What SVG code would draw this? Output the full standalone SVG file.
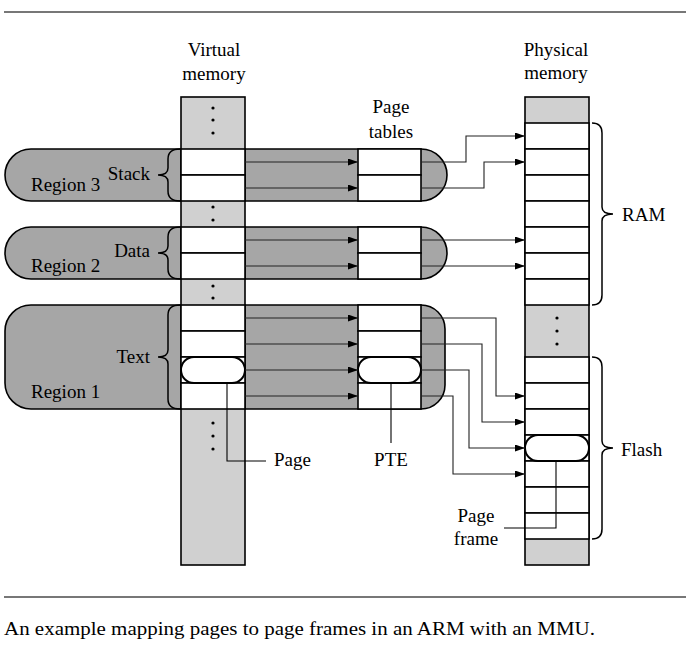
<svg xmlns="http://www.w3.org/2000/svg" width="686" height="650" viewBox="0 0 686 650">
<style>
.t{font-family:"Liberation Serif","Times New Roman",serif;font-size:19px;fill:#000}
.region{fill:#a6a6a6;stroke:#000;stroke-width:1.6}
.col{fill:#d0d0d0;stroke:#000;stroke-width:1.6}
.cell{fill:#fff;stroke:#000;stroke-width:1.6}
.pill{fill:#fff;stroke:#000;stroke-width:2}
.brace{fill:none;stroke:#000;stroke-width:1.5}
.arr{fill:none;stroke:#222;stroke-width:1.1}
.lead{fill:none;stroke:#000;stroke-width:1.1}
.rule{stroke:#777;stroke-width:2}
</style>
<defs>
<marker id="ah" markerUnits="userSpaceOnUse" markerWidth="11" markerHeight="8" refX="10" refY="3.5" orient="auto">
<path d="M0,0 L10,3.5 L0,7 z" fill="#000"/>
</marker>
</defs>
<line class="rule" x1="4" y1="12" x2="686" y2="12"/>
<line class="rule" x1="4" y1="597" x2="686" y2="597"/>

<g id="region3">
<path class="region" d="M31,149 L421,149 A26,26 0 0 1 421,201 L31,201 A26,26 0 0 1 31,149 Z"/>
<text class="t" x="31" y="191">Region 3</text>
<text class="t" x="150" y="180" text-anchor="end">Stack</text>
<path class="brace" d="M180,149 Q168,149 168,159 L168,168 Q168,175 158,175 Q168,175 168,182 L168,191 Q168,201 180,201"/>
</g>
<g id="region2">
<path class="region" d="M31,227 L421,227 A26,26 0 0 1 421,279 L31,279 A26,26 0 0 1 31,227 Z"/>
<text class="t" x="31" y="272">Region 2</text>
<text class="t" x="150" y="257" text-anchor="end">Data</text>
<path class="brace" d="M180,227 Q168,227 168,237 L168,246 Q168,253 158,253 Q168,253 168,260 L168,269 Q168,279 180,279"/>
</g>
<g id="region1">
<path class="region" d="M31,305 L421,305 A24,24 0 0 1 445,329 L445,385 A24,24 0 0 1 421,409 L31,409 A26,26 0 0 1 5,383 L5,331 A26,26 0 0 1 31,305 Z"/>
<text class="t" x="31" y="398">Region 1</text>
<text class="t" x="150" y="363" text-anchor="end">Text</text>
<path class="brace" d="M180,305 Q168,305 168,315 L168,350 Q168,357 158,357 Q168,357 168,364 L168,399 Q168,409 180,409"/>
</g>

<g id="virtual-memory">
<text class="t" x="214" y="56" text-anchor="middle">Virtual</text>
<text class="t" x="214" y="80" text-anchor="middle">memory</text>
<rect class="col" x="181" y="97" width="64" height="468"/>
<rect class="cell" x="181" y="149" width="64" height="26"/>
<rect class="cell" x="181" y="175" width="64" height="26"/>
<rect class="cell" x="181" y="227" width="64" height="26"/>
<rect class="cell" x="181" y="253" width="64" height="26"/>
<rect class="cell" x="181" y="305" width="64" height="26"/>
<rect class="cell" x="181" y="331" width="64" height="26"/>
<rect class="cell" x="181" y="357" width="64" height="26"/>
<rect class="cell" x="181" y="383" width="64" height="26"/>
<rect class="pill" x="181" y="357" width="64" height="26" rx="13"/>
<g fill="#000">
<circle cx="213" cy="108" r="1.6"/><circle cx="213" cy="120" r="1.6"/><circle cx="213" cy="133" r="1.6"/>
<circle cx="213" cy="207" r="1.6"/><circle cx="213" cy="220" r="1.6"/>
<circle cx="213" cy="286" r="1.6"/><circle cx="213" cy="298" r="1.6"/>
<circle cx="213" cy="423" r="1.6"/><circle cx="213" cy="436" r="1.6"/><circle cx="213" cy="449" r="1.6"/>
</g>
</g>

<g id="page-tables">
<text class="t" x="391" y="113" text-anchor="middle">Page</text>
<text class="t" x="391" y="138" text-anchor="middle">tables</text>
<rect class="cell" x="358" y="149" width="63" height="26"/>
<rect class="cell" x="358" y="175" width="63" height="26"/>
<rect class="cell" x="358" y="227" width="63" height="26"/>
<rect class="cell" x="358" y="253" width="63" height="26"/>
<rect class="cell" x="358" y="305" width="63" height="26"/>
<rect class="cell" x="358" y="331" width="63" height="26"/>
<rect class="cell" x="358" y="357" width="63" height="26"/>
<rect class="cell" x="358" y="383" width="63" height="26"/>
<rect class="pill" x="358" y="357" width="63" height="26" rx="13"/>
</g>

<g id="physical-memory">
<text class="t" x="556" y="56" text-anchor="middle">Physical</text>
<text class="t" x="556" y="79" text-anchor="middle">memory</text>
<rect class="col" x="525" y="97" width="64" height="468"/>
<rect class="cell" x="525" y="123" width="64" height="26"/>
<rect class="cell" x="525" y="149" width="64" height="26"/>
<rect class="cell" x="525" y="175" width="64" height="26"/>
<rect class="cell" x="525" y="201" width="64" height="26"/>
<rect class="cell" x="525" y="227" width="64" height="26"/>
<rect class="cell" x="525" y="253" width="64" height="26"/>
<rect class="cell" x="525" y="279" width="64" height="26"/>
<rect class="cell" x="525" y="357" width="64" height="26"/>
<rect class="cell" x="525" y="383" width="64" height="26"/>
<rect class="cell" x="525" y="409" width="64" height="26"/>
<rect class="cell" x="525" y="435" width="64" height="26"/>
<rect class="cell" x="525" y="461" width="64" height="26"/>
<rect class="cell" x="525" y="487" width="64" height="26"/>
<rect class="cell" x="525" y="513" width="64" height="26"/>
<rect class="pill" x="525" y="435" width="64" height="26" rx="13"/>
<g fill="#000">
<circle cx="557" cy="318" r="1.6"/><circle cx="557" cy="331" r="1.6"/><circle cx="557" cy="344" r="1.6"/>
</g>
<path class="brace" d="M592,123 Q602,123 602,133 L602,207 Q602,214 613,214 Q602,214 602,221 L602,295 Q602,305 592,305"/>
<text class="t" x="622" y="221">RAM</text>
<path class="brace" d="M592,357 Q602,357 602,367 L602,441 Q602,448 613,448 Q602,448 602,455 L602,529 Q602,539 592,539"/>
<text class="t" x="621" y="456">Flash</text>
</g>

<g id="connectors">
<path class="arr" marker-end="url(#ah)" d="M245,162 H358"/>
<path class="arr" marker-end="url(#ah)" d="M245,188 H358"/>
<path class="arr" marker-end="url(#ah)" d="M245,240 H358"/>
<path class="arr" marker-end="url(#ah)" d="M245,266 H358"/>
<path class="arr" marker-end="url(#ah)" d="M245,318 H358"/>
<path class="arr" marker-end="url(#ah)" d="M245,344 H358"/>
<path class="arr" marker-end="url(#ah)" d="M245,370 H358"/>
<path class="arr" marker-end="url(#ah)" d="M245,396 H358"/>
<path class="arr" marker-end="url(#ah)" d="M421,162 H466 V136 H525"/>
<path class="arr" marker-end="url(#ah)" d="M421,188 H484 V162 H525"/>
<path class="arr" marker-end="url(#ah)" d="M421,240 H525"/>
<path class="arr" marker-end="url(#ah)" d="M421,266 H525"/>
<path class="arr" marker-end="url(#ah)" d="M421,318 H496 V396 H525"/>
<path class="arr" marker-end="url(#ah)" d="M421,344 H482 V422 H525"/>
<path class="arr" marker-end="url(#ah)" d="M421,370 H469 V448 H525"/>
<path class="arr" marker-end="url(#ah)" d="M421,396 H453 V474 H525"/>
<path class="lead" d="M227,383 V461 H266"/>
<path class="lead" d="M391,383 V443"/>
<path class="lead" d="M556,461 V528 H504"/>
</g>

<g id="labels">
<text class="t" x="274" y="466">Page</text>
<text class="t" x="391" y="466" text-anchor="middle">PTE</text>
<text class="t" x="476" y="522" text-anchor="middle">Page</text>
<text class="t" x="476" y="545" text-anchor="middle">frame</text>
<text class="t" x="4" y="635" style="font-size:18.5px" textLength="591" lengthAdjust="spacingAndGlyphs">An example mapping pages to page frames in an ARM with an MMU.</text>
</g>
</svg>
